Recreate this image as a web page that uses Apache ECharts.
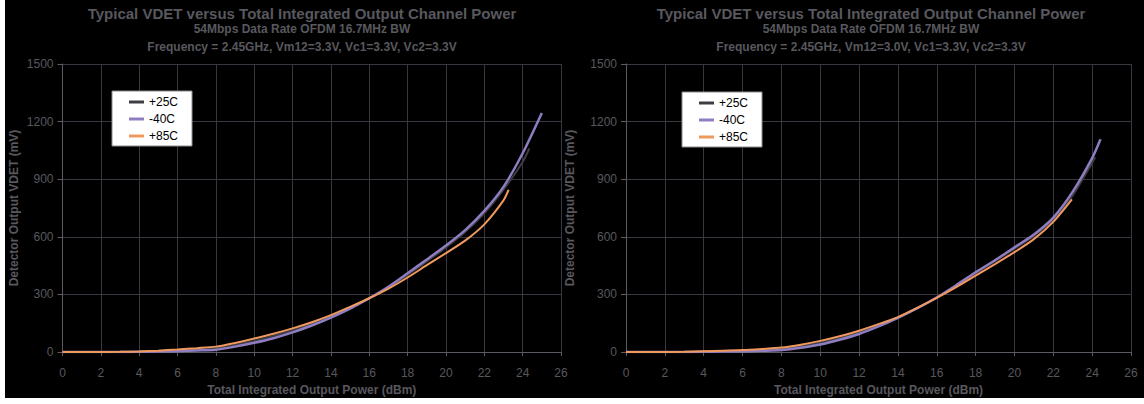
<!DOCTYPE html>
<html><head><meta charset="utf-8">
<script src="https://cdn.jsdelivr.net/npm/echarts@6/dist/echarts.min.js"></script>
<style>html,body{margin:0;padding:0;background:#fff;}#c{width:1144px;height:404px;}</style>
</head><body><div id="c"></div>
<script>
// ---- data ----
const seriesNames = ['+25C', '-40C', '+85C'];
const xTickLabels = ['0','2','4','6','8','10','12','14','16','18','20','22','24','26'];
const yTickLabels = ['0','300','600','900','1200','1500'];

// Left chart: Vm12 = 3.3V
const leftPower25 = [0,1,2,3,4,5,6,7,8,9,10,11,12,13,14,15,16,17,18,19,20,21,22,23,24,24.35];
const leftVdet25  = [0,0,0,1,3,6,10,15,20,37,58,84,113,147,186,232,280,338,402,472,545,625,722,845,990,1060];
const leftPowerM40 = [0,1,2,3,4,5,6,7,8,9,10,11,12,13,14,15,16,17,18,19,20,21,22,23,24,25];
const leftVdetM40  = [0,0,0,0,1,2,4,8,12,28,48,72,102,138,179,226,280,340,410,482,555,635,735,860,1035,1245];
const leftPower85 = [0,1,2,3,4,5,6,7,8,9,10,11,12,13,14,15,16,17,18,19,20,21,22,23,23.27];
const leftVdet85  = [0,0,0,1,3,7,13,20,28,47,70,95,123,155,192,235,280,330,388,452,515,580,665,790,845];

// Right chart: Vm12 = 3.0V
const rightPower25 = [0,1,2,3,4,5,6,7,8,9,10,11,12,13,14,15,16,17,18,19,20,21,22,23,24,24.16];
const rightVdet25  = [0,0,0,0,2,4,6,10,16,30,48,72,102,138,180,230,284,345,410,473,538,605,690,815,985,1014];
const rightPowerM40 = [0,1,2,3,4,5,6,7,8,9,10,11,12,13,14,15,16,17,18,19,20,21,22,23,24,24.43];
const rightVdetM40  = [0,0,0,0,1,2,3,6,10,22,39,64,94,133,178,228,284,348,415,478,545,612,700,835,1010,1108];
const rightPower85 = [0,1,2,3,4,5,6,7,8,9,10,11,12,13,14,15,16,17,18,19,20,21,22,22.96];
const rightVdet85  = [0,0,0,1,4,7,10,16,23,38,58,82,111,145,182,230,282,338,398,458,520,588,678,795];

const titleMain = 'Typical VDET versus Total Integrated Output Channel Power';
const subLine1 = '54Mbps Data Rate OFDM 16.7MHz BW';
const leftSubLine2 = 'Frequency = 2.45GHz, Vm12=3.3V, Vc1=3.3V, Vc2=3.3V';
const rightSubLine2 = 'Frequency = 2.45GHz, Vm12=3.0V, Vc1=3.3V, Vc2=3.3V';
const xName = 'Total Integrated Output Power (dBm)';
const yName = 'Detector Output VDET (mV)';

// ---- styling ----
const FONT = '"Liberation Sans", Arial, sans-serif';
const colors = {'+25C': '#3d3d42', '-40C': '#8e7dc0', '+85C': '#f0995f'};
const widths = {'+25C': 2, '-40C': 2.5, '+85C': 2};
const gridColor = '#3a3740';
const axisColor = '#5e5a64';
const textColor = '#58585e';

function pairs(xs, ys) { return xs.map((x, i) => [x, ys[i]]); }

function xAxisFor(gi) {
  return {
    type: 'value', gridIndex: gi, min: 0, max: 26, interval: 2,
    name: xName, nameLocation: 'middle', nameGap: 30,
    nameTextStyle: {color: textColor, fontSize: 12, fontWeight: 'bold', fontFamily: FONT},
    axisLine: {show: true, onZero: false, lineStyle: {color: axisColor, width: 1}},
    axisTick: {show: true, length: 4, lineStyle: {color: axisColor}},
    axisLabel: {color: textColor, fontSize: 12, fontFamily: FONT, margin: 15,
      formatter: v => xTickLabels[Math.round(v / 2)]},
    splitLine: {show: true, lineStyle: {color: gridColor, width: 1}}
  };
}
function yAxisFor(gi, gap) {
  return {
    type: 'value', gridIndex: gi, min: 0, max: 1500, interval: 300,
    name: yName, nameLocation: 'middle', nameGap: gap, nameRotate: 90,
    nameTextStyle: {color: textColor, fontSize: 12, fontWeight: 'bold', fontFamily: FONT},
    axisLine: {show: true, lineStyle: {color: axisColor, width: 1}},
    axisTick: {show: true, length: 5, lineStyle: {color: axisColor}},
    axisLabel: {color: textColor, fontSize: 12, fontFamily: FONT, margin: 9,
      formatter: v => yTickLabels[Math.round(v / 300)]},
    splitLine: {show: true, lineStyle: {color: gridColor, width: 1}}
  };
}
function lineSeries(name, gi, data, z) {
  return {
    name, type: 'line', xAxisIndex: gi, yAxisIndex: gi, data,
    showSymbol: false, smooth: 0.25, z,
    lineStyle: {color: colors[name], width: widths[name]},
    itemStyle: {color: colors[name]},
    emphasis: {disabled: true}
  };
}
function legendFor(left, top) {
  return {
    orient: 'vertical', left, top, data: seriesNames,
    backgroundColor: '#ffffff', borderColor: '#8a8a8a', borderWidth: 1,
    padding: [4, 14, 3, 17], itemGap: 3, itemWidth: 15, itemHeight: 3, icon: 'rect',
    textStyle: {color: '#000', fontSize: 12, fontFamily: FONT, lineHeight: 14},
    selectedMode: false
  };
}
function titleTexts(cx, sub2) {
  return [
    {type: 'text', x: cx, y: 13, style: {text: titleMain, fill: textColor, font: 'bold 15px ' + FONT, align: 'center', verticalAlign: 'middle'}},
    {type: 'text', x: cx, y: 29, style: {text: subLine1, fill: textColor, font: 'bold 12px ' + FONT, align: 'center', verticalAlign: 'middle'}},
    {type: 'text', x: cx, y: 47, style: {text: sub2, fill: textColor, font: 'bold 12px ' + FONT, align: 'center', verticalAlign: 'middle'}}
  ];
}

const chart = echarts.init(document.getElementById('c'), null, {renderer: 'svg'});
chart.setOption({
  animation: false,
  backgroundColor: '#ffffff',
  graphic: [
    {type: 'rect', z: -10, silent: true, shape: {x: 5, y: 0, width: 1139, height: 398}, style: {fill: '#000000'}},
    ...titleTexts(302, leftSubLine2),
    ...titleTexts(871, rightSubLine2)
  ],
  grid: [
    {left: 62.5, top: 64, width: 498.5, height: 288},
    {left: 626, top: 64, width: 505, height: 288}
  ],
  xAxis: [xAxisFor(0), xAxisFor(1)],
  yAxis: [yAxisFor(0, 43), yAxisFor(1, 50)],
  legend: [legendFor(112, 91), legendFor(682, 92)],
  series: [
    lineSeries('+25C', 0, pairs(leftPower25, leftVdet25), 3),
    lineSeries('-40C', 0, pairs(leftPowerM40, leftVdetM40), 4),
    lineSeries('+85C', 0, pairs(leftPower85, leftVdet85), 5),
    lineSeries('+25C', 1, pairs(rightPower25, rightVdet25), 3),
    lineSeries('-40C', 1, pairs(rightPowerM40, rightVdetM40), 4),
    lineSeries('+85C', 1, pairs(rightPower85, rightVdet85), 5)
  ]
});
</script>
</body></html>
